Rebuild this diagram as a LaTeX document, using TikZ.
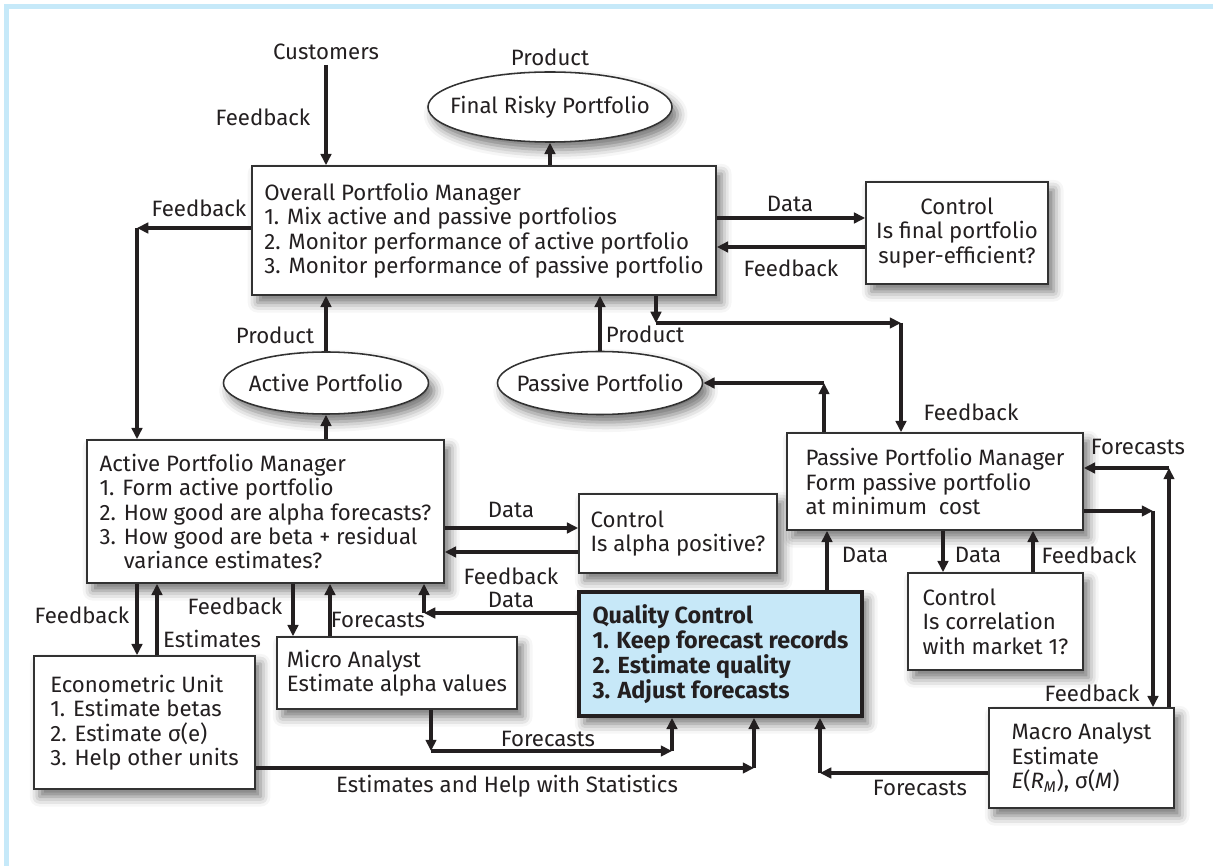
\documentclass[tikz,border=0pt]{standalone}
\usepackage{fontspec}
\setmainfont{Fira Sans}
\usetikzlibrary{arrows.meta,shapes.geometric,shadows.blur}
\definecolor{ink}{RGB}{35,31,32}
\definecolor{edge}{RGB}{50,50,50}
\definecolor{frameblue}{RGB}{198,233,249}
\definecolor{qcblue}{RGB}{199,232,248}
\newcommand{\diagfont}{\fontsize{15.8}{17.4}\selectfont}

\begin{document}
\begin{tikzpicture}[x=0.025cm, y=-0.025cm, font=\diagfont, text=ink,
		arr/.style={draw=ink, line width=2.2pt, -{Triangle[length=8pt,width=7.5pt]}},
		soft/.style={blur shadow={shadow xshift=4pt, shadow yshift=-5.5pt, shadow blur radius=7pt, shadow opacity=55}},
		box/.style={draw=edge, fill=white, line width=1.1pt, align=left, inner sep=0pt, soft},
		oval/.style={ellipse, draw=edge, fill=white, line width=1.1pt, inner sep=0pt, soft}]
		\useasboundingbox (0,0) rectangle (1213,866);
		\fill[frameblue] (4,4) rectangle (1213,9);
		\fill[frameblue] (4,4) rectangle (9,866);

		\node (cust) at (326,52) {Customers};
		\node[oval, minimum width=6.1cm, minimum height=1.75cm] (final) at (550,107) {\makebox[0pt]{Final Risky Portfolio}};
		\node[box, minimum width=11.6cm, minimum height=3.225cm] (opm) at (484,230.5) {Overall Portfolio Manager\\1. Mix active and passive portfolios\\2. Monitor performance of active portfolio\\3. Monitor performance of passive portfolio};
		\node[box, align=center, minimum width=4.55cm, minimum height=2.55cm] (ctlfin) at (957,233) {Control\\Is final portfolio\\super-efficient?};
		\node[oval, minimum width=5.125cm, minimum height=1.55cm] (act) at (326,383) {\makebox[0pt]{Active Portfolio}};
		\node[oval, minimum width=5.125cm, minimum height=1.575cm] (pas) at (600,383) {\makebox[0pt]{Passive Portfolio}};
		\node[box, minimum width=8.925cm, minimum height=3.575cm] (apm) at (265.5,511.5) {Active Portfolio Manager\\1. Form active portfolio\\2. How good are alpha forecasts?\\3. How good are beta + residual\\\phantom{3. }variance estimates?};
		\node[box, minimum width=4.95cm, minimum height=1.975cm] (ctlalpha) at (678,533.5) {Control\\Is alpha positive?};
		\node[box, minimum width=7.4cm, minimum height=2.425cm] (ppm) at (935,481.5) {Passive Portfolio Manager\\Form passive portfolio\\at minimum~~cost};
		\node[box, minimum width=4.375cm, minimum height=2.425cm] (ctlcorr) at (995.5,621.5) {Control\\Is correlation\\with market 1?};
		\node[box, minimum width=5.525cm, minimum height=3.325cm] (econ) at (144.5,722.5) {Econometric Unit\\1. Estimate betas\\2. Estimate σ(e)\\3. Help other units};
		\node[box, minimum width=6cm, minimum height=1.8cm] (micro) at (397,673) {Micro Analyst\\Estimate alpha values};
		\node[box, fill=qcblue, draw=ink, line width=2.6pt, font=\fontsize{16.6}{17.8}\selectfont\bfseries, minimum width=7.075cm, minimum height=3.1cm] (qc) at (720.5,654) {Quality Control\\1. Keep forecast records\\2. Estimate quality\\3. Adjust forecasts};
		\node[box, minimum width=4.625cm, minimum height=2.5cm] (macro) at (1081.5,758) {Macro Analyst\\Estimate\\\textit{E}(\textit{R}\textsubscript{\textit{M}}), σ(\textit{M})};

		\node (lprodfin) at (550,57) {Product};
		\node (lfbcust) at (263,117) {Feedback};
		\node (lfbopm) at (199,208) {Feedback};
		\node (ldatafin) at (790,204) {Data};
		\node (lfbfin) at (791,268) {Feedback};
		\node (lprodact) at (275,335) {Product};
		\node (lprodpas) at (645,334) {Product};
		\node (lfbppm) at (971,412) {Feedback};
		\node (lfcppm) at (1138,447) {Forecasts};
		\node (ldataalpha) at (511,510) {Data};
		\node (lfbalpha) at (511,576) {Feedback};
		\node (ldataqc) at (511,600) {Data};
		\node (ldatappm) at (865,555) {Data};
		\node (ldatacorr) at (978,555) {Data};
		\node (lfbcorr) at (1089,555) {Feedback};
		\node (lfbecon) at (82,615) {Feedback};
		\node (lestecon) at (212,639) {Estimates};
		\node (lfbmicro) at (235,606) {Feedback};
		\node (lfcmicro) at (378,620) {Forecasts};
		\node (lfcqc) at (548,739) {Forecasts};
		\node (lstat) at (507,786) {Estimates and Help with Statistics};
		\node (lfcmacro) at (920,788) {Forecasts};
		\node (lfbmacro) at (1092,693) {Feedback};

		\coordinate (fbl) at (137,228);
		\coordinate (pc1) at (656,323);
		\coordinate (pc2) at (901,323);
		\coordinate (pc3) at (824,383);
		\coordinate (qc1) at (424,613);
		\coordinate (mc1) at (431,751);
		\coordinate (mc2) at (672,751);
		\coordinate (ec1) at (754,768);
		\coordinate (mac1) at (820,773);
		\coordinate (rc1) at (1153,511);
		\coordinate (rc2) at (1169,468);

		\draw[arr] (cust) -- (cust |- opm.north);
		\draw[arr] (opm.north -| final) -- (final.south);
		\draw[arr] (opm.west |- fbl) -- (fbl);
		\draw[arr] (fbl) -- (fbl |- apm.north);
		\draw[arr] (opm.east |- 0,218) -- (ctlfin.west |- 0,218);
		\draw[arr] (ctlfin.west |- 0,247) -- (opm.east |- 0,247);
		\draw[arr] (act.north) -- (act.north |- opm.south);
		\draw[arr] (apm.north -| act) -- (act.south);
		\draw[arr] (pas.north) -- (pas.north |- opm.south);
		\draw[arr] (opm.south -| pc1) -- (pc1);
		\draw[arr] (pc1) -- (pc2);
		\draw[arr] (pc2) -- (pc2 |- ppm.north);
		\draw[arr] (ppm.north -| pc3) -- (pc3);
		\draw[arr] (pc3) -- (pas.east);
		\draw[arr] (apm.east |- 0,528) -- (ctlalpha.west |- 0,528);
		\draw[arr] (ctlalpha.west |- 0,552) -- (apm.east |- 0,552);
		\draw[arr] (qc.west |- qc1) -- (qc1);
		\draw[arr] (qc1) -- (qc1 |- apm.south);
		\draw[arr] (apm.south -| fbl) -- (econ.north -| fbl);
		\draw[arr] (econ.north -| 157,0) -- (apm.south -| 157,0);
		\draw[arr] (apm.south -| 293,0) -- (micro.north -| 293,0);
		\draw[arr] (micro.north -| 330,0) -- (apm.south -| 330,0);
		\draw[arr] (micro.south -| mc1) -- (mc1);
		\draw[arr] (mc1) -- (mc2);
		\draw[arr] (mc2) -- (mc2 |- qc.south);
		\draw[arr] (econ.east |- ec1) -- (ec1);
		\draw[arr] (ec1) -- (ec1 |- qc.south);
		\draw[arr] (macro.west |- mac1) -- (mac1);
		\draw[arr] (mac1) -- (mac1 |- qc.south);
		\draw[arr] (qc.north -| 827,0) -- (ppm.south -| 827,0);
		\draw[arr] (ppm.south -| 943,0) -- (ctlcorr.north -| 943,0);
		\draw[arr] (ctlcorr.north -| 1033,0) -- (ppm.south -| 1033,0);
		\draw[arr] (ppm.east |- rc1) -- (rc1);
		\draw[arr] (rc1) -- (rc1 |- macro.north);
		\draw[arr] (macro.north -| rc2) -- (rc2);
		\draw[arr] (rc2) -- (ppm.east |- rc2);
\end{tikzpicture}
\end{document}
